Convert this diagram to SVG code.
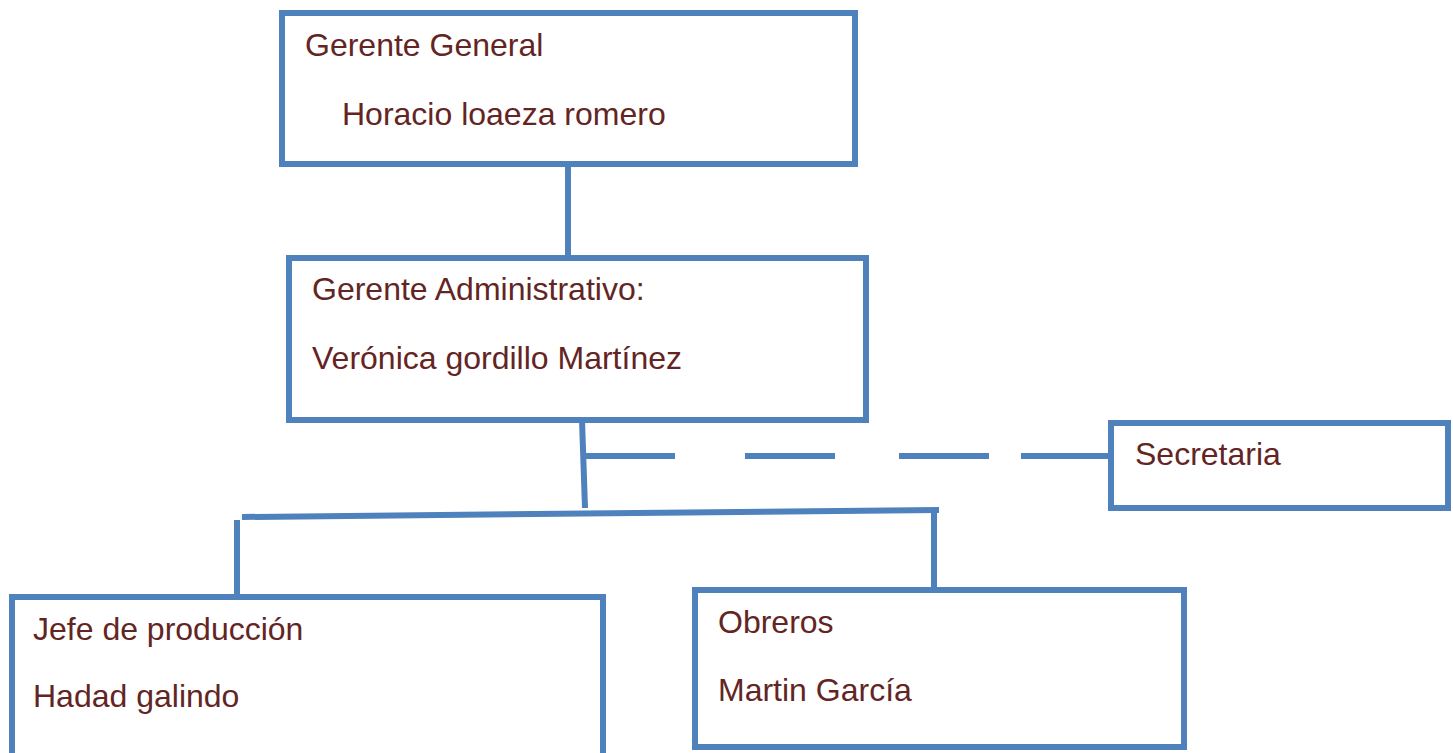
<svg xmlns="http://www.w3.org/2000/svg" width="1453" height="753" viewBox="0 0 1453 753">
<style>
.box{fill:#ffffff;stroke:#4F81BD;stroke-width:6}
.ln{stroke:#4F81BD;stroke-width:6;fill:none}
.t{font-family:"Liberation Sans",Arial,sans-serif;font-size:32px;fill:#632523}
</style>
<rect width="1453" height="753" fill="#ffffff"/>
<g id="connectors">
<line class="ln" x1="568" y1="164" x2="568" y2="262"/>
<line class="ln" x1="582" y1="420" x2="585" y2="508"/>
<line class="ln" x1="583" y1="456" x2="1110" y2="456" stroke-dasharray="92,70,90,64,90,32,90"/>
<line class="ln" x1="242" y1="517" x2="939" y2="510"/>
<line class="ln" x1="237" y1="520" x2="237" y2="597"/>
<line class="ln" x1="934" y1="513" x2="934" y2="590"/>
</g>
<g id="gerente-general">
<rect class="box" x="282" y="13" width="573" height="151"/>
<text class="t" x="305" y="56">Gerente General</text>
<text class="t" x="342" y="125">Horacio loaeza romero</text>
</g>
<g id="gerente-administrativo">
<rect class="box" x="289" y="258" width="577" height="162"/>
<text class="t" x="312" y="300">Gerente Administrativo:</text>
<text class="t" x="312" y="369">Verónica gordillo Martínez</text>
</g>
<g id="secretaria">
<rect class="box" x="1111" y="423" width="337" height="85"/>
<text class="t" x="1135" y="465">Secretaria</text>
</g>
<g id="jefe-produccion">
<rect class="box" x="12" y="597" width="591" height="160"/>
<text class="t" x="33" y="640">Jefe de producción</text>
<text class="t" x="33" y="707">Hadad galindo</text>
</g>
<g id="obreros">
<rect class="box" x="695" y="590" width="489" height="157"/>
<text class="t" x="718" y="633">Obreros</text>
<text class="t" x="718" y="701">Martin García</text>
</g>
</svg>
